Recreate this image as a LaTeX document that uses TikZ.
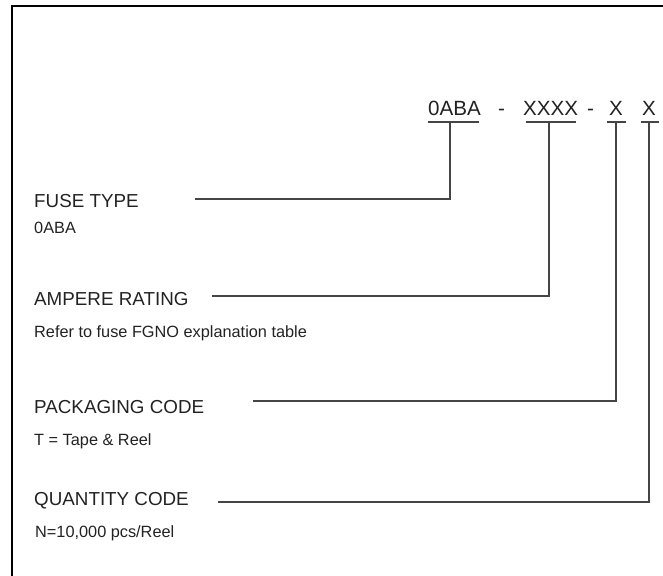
\documentclass[tikz,border=0pt]{standalone}
\usepackage{fontspec}
\setmainfont{Liberation Sans}
\begin{document}
\begin{tikzpicture}[x=1pt,y=-1pt,
  code/.style={inner sep=0pt,anchor=base west,text=txt,font=\fontsize{20.6}{22}\selectfont},
  head/.style={inner sep=0pt,anchor=base west,text=txt,font=\fontsize{18.8}{20}\selectfont},
  desc/.style={inner sep=0pt,anchor=base west,text=txt,font=\fontsize{16.3}{18}\selectfont},
  conn/.style={draw=ln,line width=1.7pt},
  frame/.style={draw=black,line width=2.2pt}]
\definecolor{txt}{HTML}{222222}
\definecolor{ln}{HTML}{454545}
\useasboundingbox (0,0) rectangle (663,575);
% frame (only top and left edges visible)
\coordinate (fTL) at (12,6);
\coordinate (fTR) at (664,6);
\coordinate (fBL) at (12,576);
\draw[frame] (fTR) -- (fTL) -- (fBL);
% part number
\node[code] (c0) at (428,115) {0ABA};
\node[code] (d1) at (498,115) {-};
\node[code] (c1) at (523,115) {XXXX};
\node[code] (d2) at (587,115) {-};
\node[code] (c2) at (609,115) {X};
\node[code] (c3) at (642,115) {X};
% underlines
\coordinate (u0a) at (428,122); \coordinate (u0b) at (479,122);
\coordinate (u1a) at (526,122); \coordinate (u1b) at (576,122);
\coordinate (u2a) at (607,122); \coordinate (u2b) at (626,122);
\coordinate (u3a) at (641,122); \coordinate (u3b) at (659,122);
\draw[conn] (u0a) -- (u0b);
\draw[conn] (u1a) -- (u1b);
\draw[conn] (u2a) -- (u2b);
\draw[conn] (u3a) -- (u3b);
\coordinate (s0) at (450,122);
\coordinate (s1) at (549,122);
\coordinate (s2) at (616,122);
\coordinate (s3) at (649,122);
% labels
\node[head] (h0) at (34,207) {FUSE TYPE};
\node[desc] (t0) at (34,233) {0ABA};
\node[head] (h1) at (34,305) {AMPERE RATING};
\node[desc] (t1) at (34,337) {Refer to fuse FGNO explanation table};
\node[head] (h2) at (34,413) {PACKAGING CODE};
\node[desc] (t2) at (34,445) {T = Tape \& Reel};
\node[head] (h3) at (34,505) {QUANTITY CODE};
\node[desc] (t3) at (35,537) {N=10,000 pcs/Reel};
% connectors
\coordinate (l0) at (195,199);
\coordinate (l1) at (212,296);
\coordinate (l2) at (253,401);
\coordinate (l3) at (218,502);
\draw[conn] (l0) -| (s0);
\draw[conn] (l1) -| (s1);
\draw[conn] (l2) -| (s2);
\draw[conn] (l3) -| (s3);
\end{tikzpicture}
\end{document}
